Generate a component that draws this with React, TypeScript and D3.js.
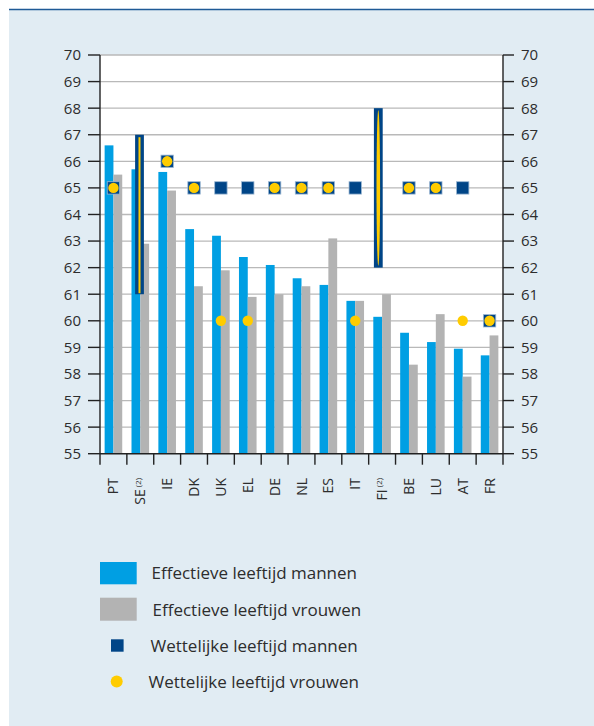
import React from "react";
import * as d3 from "d3";

// Countries along the x axis; "(2)" marks a footnote
const countries = ["PT", "SE", "IE", "DK", "UK", "EL", "DE", "NL", "ES", "IT", "FI", "BE", "LU", "AT", "FR"];
const footnoted = ["SE", "FI"];

// Effective retirement age
const effectiveMen = [66.6, 65.7, 65.6, 63.45, 63.2, 62.4, 62.1, 61.6, 61.35, 60.75, 60.15, 59.55, 59.2, 58.95, 58.7];
const effectiveWomen = [65.5, 62.9, 64.9, 61.3, 61.9, 60.9, 61.0, 61.3, 63.1, 60.75, 61.0, 58.35, 60.25, 57.9, 59.45];

// Statutory retirement age (null where a range applies)
const legalMen = [65, null, 66, 65, 65, 65, 65, 65, 65, 65, null, 65, 65, 65, 60];
const legalWomen = [65, null, 66, 65, 60, 60, 65, 65, 65, 60, null, 65, 65, 60, 60];

// Flexible statutory age ranges
const rangeCountries = ["SE", "FI"];
const rangeLow = [61, 62];
const rangeHigh = [67, 68];

const yTicks = d3.range(55, 71);

const legendLabels = [
  "Effectieve leeftijd mannen",
  "Effectieve leeftijd vrouwen",
  "Wettelijke leeftijd mannen",
  "Wettelijke leeftijd vrouwen",
];

const W = 594;
const H = 726;
const plot = { left: 100, right: 503, top: 55, bottom: 453.7 };

const C = {
  panel: "#e1ecf3",
  topLine: "#1f5a96",
  blue: "#009fe3",
  grey: "#b3b3b3",
  navy: "#004587",
  yellow: "#ffcc00",
  grid: "#b9b9b9",
  text: "#2d2d2d",
};

const FONT = "'Open Sans', 'Noto Sans', sans-serif";

export default function App() {
  const x = d3.scaleBand<string>().domain(countries).range([plot.left, plot.right]).padding(0);
  const y = d3.scaleLinear().domain([55, 70]).range([plot.bottom, plot.top]);
  const bw = 8.8;
  const cx = (c: string) => (x(c) as number) + x.bandwidth() / 2;

  return (
    <svg
      width={W}
      height={H}
      style={{ position: "absolute", left: 0, top: 0, fontFamily: FONT }}
    >
      <rect x={0} y={0} width={W} height={H} fill="#ffffff" />
      <rect x={9} y={10} width={W - 9} height={H - 10} fill={C.panel} />
      <line x1={9} x2={W} y1={9.5} y2={9.5} stroke={C.topLine} strokeWidth={1.6} />

      {/* plot area */}
      <rect x={plot.left} y={plot.top} width={plot.right - plot.left} height={plot.bottom - plot.top} fill="#ffffff" />

      {/* gridlines */}
      {yTicks.slice(1).map((t) => (
        <line key={"g" + t} x1={plot.left} x2={plot.right} y1={y(t)} y2={y(t)} stroke={C.grid} strokeWidth={1.3} />
      ))}

      {/* bars */}
      {countries.map((c, i) => (
        <g key={"b" + c}>
          <rect x={cx(c) - bw} y={y(effectiveMen[i])} width={bw} height={y(55) - y(effectiveMen[i])} fill={C.blue} />
          <rect x={cx(c)} y={y(effectiveWomen[i])} width={bw} height={y(55) - y(effectiveWomen[i])} fill={C.grey} />
        </g>
      ))}

      {/* axes */}
      <g stroke="#222" strokeWidth={1.4}>
        <line x1={plot.left} x2={plot.left} y1={plot.top} y2={plot.bottom} />
        <line x1={plot.right} x2={plot.right} y1={plot.top} y2={plot.bottom} />
        <line x1={plot.left} x2={plot.right} y1={plot.bottom} y2={plot.bottom} />
        {yTicks.map((t) => (
          <g key={"t" + t}>
            <line x1={88} x2={plot.left} y1={y(t)} y2={y(t)} />
            <line x1={plot.right} x2={514} y1={y(t)} y2={y(t)} />
          </g>
        ))}
        {countries.concat([""]).map((c, i) => {
          const xx = i < countries.length ? (x(c) as number) : plot.right;
          return <line key={"xt" + i} x1={xx} x2={xx} y1={plot.bottom} y2={plot.bottom + 11} />;
        })}
      </g>

      {/* y tick labels */}
      {yTicks.map((t) => (
        <g key={"yl" + t} fontSize={15} fill={C.text}>
          <text x={81} y={y(t)} dy="0.36em" textAnchor="end">{t}</text>
          <text x={521} y={y(t)} dy="0.36em" textAnchor="start">{t}</text>
        </g>
      ))}

      {/* x labels */}
      {countries.map((c) => (
        <text
          key={"xl" + c}
          transform={`translate(${cx(c)},478) rotate(-90)`}
          textAnchor="end"
          dy="0.36em"
          fontSize={14}
          fill={C.text}
        >
          {c}
          {footnoted.includes(c) ? (
            <tspan fontSize={8} dx={2} dy="-0.6em">(2)</tspan>
          ) : null}
        </text>
      ))}

      {/* statutory age markers */}
      {countries.map((c, i) => (
        <g key={"m" + c}>
          {legalMen[i] != null && (
            <rect
              x={cx(c) - 6.2}
              y={y(legalMen[i] as number) - 6.2}
              width={12.4}
              height={12.4}
              fill={C.navy}
              stroke="#9db8d3"
              strokeWidth={0.8}
            />
          )}
          {legalWomen[i] != null && (
            <circle cx={cx(c)} cy={y(legalWomen[i] as number)} r={5.2} fill={C.yellow} />
          )}
        </g>
      ))}

      {/* statutory age ranges */}
      {rangeCountries.map((c, i) => {
        const top = y(rangeHigh[i]);
        const bot = y(rangeLow[i]);
        const mx = cx(c) - (i === 0 ? 0.8 : 3.8);
        return (
          <g key={"r" + c}>
            <rect x={mx - 4.4} y={top} width={8.8} height={bot - top} fill={C.navy} />
            {i === 0 ? (
              <rect x={mx - 1} y={top + 2.5} width={2} height={bot - top - 3.5} fill={C.yellow} />
            ) : (
              <ellipse cx={mx} cy={(top + bot) / 2} rx={1.8} ry={(bot - top) / 2 - 2} fill={C.yellow} />
            )}
          </g>
        );
      })}

      {/* legend */}
      <g fontSize={17} fill={C.text}>
        <rect x={100} y={562} width={36.7} height={22.3} fill={C.blue} />
        <text x={151.5} y={579}>{legendLabels[0]}</text>
        <rect x={100} y={597.7} width={36.7} height={23} fill={C.grey} />
        <text x={152.5} y={616}>{legendLabels[1]}</text>
        <rect x={111} y={639.3} width={12.6} height={12.4} fill={C.navy} />
        <text x={150.5} y={651.7}>{legendLabels[2]}</text>
        <circle cx={116.7} cy={681.5} r={6} fill={C.yellow} />
        <text x={148.5} y={687.5}>{legendLabels[3]}</text>
      </g>
    </svg>
  );
}
